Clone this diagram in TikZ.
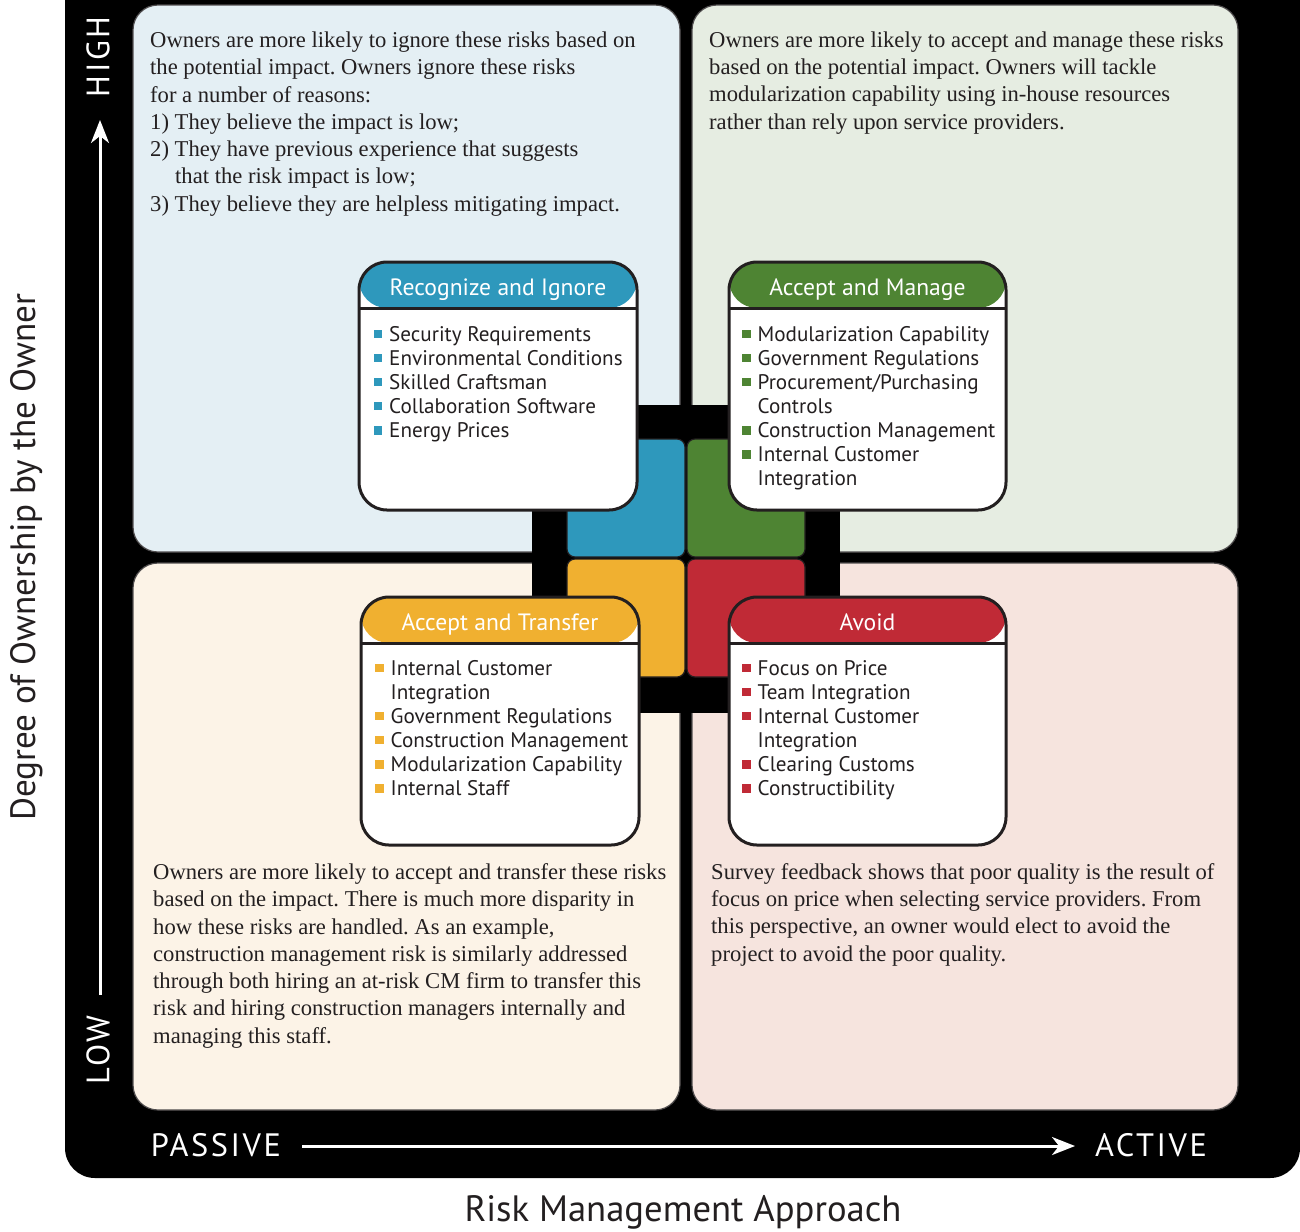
\documentclass[tikz,border=0pt]{standalone}
\usepackage{fontspec}
\setmainfont{Liberation Serif}
\newfontfamily\labfont{PT Sans}
\newfontfamily\capfont[LetterSpace=8]{PT Sans}
\usetikzlibrary{arrows.meta}
\definecolor{cblue}{HTML}{2E98BC}
\definecolor{cgreen}{HTML}{4E8433}
\definecolor{corange}{HTML}{F0B030}
\definecolor{cred}{HTML}{C02A36}
\definecolor{bgblue}{HTML}{E4EFF4}
\definecolor{bggreen}{HTML}{E6EDE2}
\definecolor{bgcream}{HTML}{FCF3E7}
\definecolor{bgpink}{HTML}{F6E4DE}
\definecolor{ink}{HTML}{231F20}
\newcommand\mybul[1]{\textcolor{#1}{\rule[3bp]{8.5bp}{8.5bp}}}
\frenchspacing
\begin{document}
\begin{tikzpicture}[x=1bp,y=-1bp,
  quad/.style={draw=ink!80,line width=1.2bp,rounded corners=25bp},
  csq/.style={draw=ink,line width=1.2bp,rounded corners=8bp},
  catbox/.style={draw=ink,line width=3bp,rounded corners=28bp,fill=white,
     minimum width=#1,minimum height=248bp,inner sep=0pt},
  cattitle/.style={anchor=base,text=white,font=\labfont\fontsize{23.7}{28}\selectfont},
  catlist/.style={anchor=base west,inner sep=0pt,text=ink,font=\labfont\fontsize{21.2}{24.25}\selectfont},
  para/.style={anchor=base west,inner sep=0pt,align=left,text=ink,font=\fontsize{22.7}{27.35}\selectfont\frenchspacing},
  axlab/.style={text=white,font=\capfont\fontsize{32.5}{34}\selectfont,inner sep=0pt},
  axtitle/.style={text=ink,font=\labfont\fontsize{#1}{40}\selectfont,inner sep=0pt},
  axarrow/.style={white,line width=3bp,-{Stealth[length=23bp,width=18bp,inset=7bp]}}
]
\useasboundingbox (0,0) rectangle (1300,1231);
% black frame
\fill[black,rounded corners=30bp] (65,-40) rectangle (1300,1178);
% quadrants
\filldraw[quad,fill=bgblue] (133,5) rectangle (680,552);
\filldraw[quad,fill=bggreen] (692,5) rectangle (1238,552);
\filldraw[quad,fill=bgcream] (133,563) rectangle (680,1110);
\filldraw[quad,fill=bgpink] (692,563) rectangle (1238,1110);
% centre block
\fill[black] (532,405) rectangle (840,713);
\filldraw[csq,fill=cblue] (567,439) rectangle (685,557);
\filldraw[csq,fill=cgreen] (687,439) rectangle (805,557);
\filldraw[csq,fill=corange] (567,559) rectangle (685,677);
\filldraw[csq,fill=cred] (687,559) rectangle (805,677);
% category boxes
\node[catbox=278bp,path picture={
  \fill[cblue] (path picture bounding box.north west) rectangle ([yshift=-46bp]path picture bounding box.north east);
  \draw[ink,line width=3bp] ([yshift=-46bp]path picture bounding box.north west) -- ([yshift=-46bp]path picture bounding box.north east);}]
  (ri) at (498,386) {};
\node[catbox=277bp,path picture={
  \fill[cgreen] (path picture bounding box.north west) rectangle ([yshift=-46bp]path picture bounding box.north east);
  \draw[ink,line width=3bp] ([yshift=-46bp]path picture bounding box.north west) -- ([yshift=-46bp]path picture bounding box.north east);}]
  (am) at (867.5,386) {};
\node[catbox=278bp,path picture={
  \fill[corange] (path picture bounding box.north west) rectangle ([yshift=-46bp]path picture bounding box.north east);
  \draw[ink,line width=3bp] ([yshift=-46bp]path picture bounding box.north west) -- ([yshift=-46bp]path picture bounding box.north east);}]
  (at) at (500,721) {};
\node[catbox=277bp,path picture={
  \fill[cred] (path picture bounding box.north west) rectangle ([yshift=-46bp]path picture bounding box.north east);
  \draw[ink,line width=3bp] ([yshift=-46bp]path picture bounding box.north west) -- ([yshift=-46bp]path picture bounding box.north east);}]
  (av) at (867.5,721) {};
\node[cattitle] (rit) at (498,295) {Recognize and Ignore};
\node[cattitle] (amt) at (867.5,295) {Accept and Manage};
\node[cattitle] (att) at (500,630) {Accept and Transfer};
\node[cattitle] (avt) at (867.5,630) {Avoid};
\node[catlist] (ril) at (373.5,341) {\begin{tabular}[t]{@{}l@{\hspace{7bp}}l@{}}
\mybul{cblue}&Security Requirements\\
\mybul{cblue}&Environmental Conditions\\
\mybul{cblue}&Skilled Craftsman\\
\mybul{cblue}&Collaboration Software\\
\mybul{cblue}&Energy Prices\end{tabular}};
\node[catlist] (aml) at (742,341) {\begin{tabular}[t]{@{}l@{\hspace{7bp}}l@{}}
\mybul{cgreen}&Modularization Capability\\
\mybul{cgreen}&Government Regulations\\
\mybul{cgreen}&Procurement/Purchasing\\
&Controls\\
\mybul{cgreen}&Construction Management\\
\mybul{cgreen}&Internal Customer\\
&Integration\end{tabular}};
\node[catlist] (atl) at (375,675) {\begin{tabular}[t]{@{}l@{\hspace{7bp}}l@{}}
\mybul{corange}&Internal Customer\\
&Integration\\
\mybul{corange}&Government Regulations\\
\mybul{corange}&Construction Management\\
\mybul{corange}&Modularization Capability\\
\mybul{corange}&Internal Staff\end{tabular}};
\node[catlist] (avl) at (742,675) {\begin{tabular}[t]{@{}l@{\hspace{7bp}}l@{}}
\mybul{cred}&Focus on Price\\
\mybul{cred}&Team Integration\\
\mybul{cred}&Internal Customer\\
&Integration\\
\mybul{cred}&Clearing Customs\\
\mybul{cred}&Constructibility\end{tabular}};
% paragraphs (anchor = baseline of the last line)
\node[para] (tlp) at (150,211.1) {Owners are more likely to ignore these risks based on\\
the potential impact. Owners ignore these risks\\
for a number of reasons:\\
1) They believe the impact is low;\\
2) They have previous experience that suggests\\
\hspace*{25bp}that the risk impact is low;\\
3) They believe they are helpless mitigating impact.};
\node[para] (trp) at (709,129) {Owners are more likely to accept and manage these risks\\
based on the potential impact. Owners will tackle\\
modularization capability using in-house resources\\
rather than rely upon service providers.};
\node[para] (blp) at (153,1043) {Owners are more likely to accept and transfer these risks\\
based on the impact. There is much more disparity in\\
how these risks are handled. As an example,\\
construction management risk is similarly addressed\\
through both hiring an at-risk CM firm to transfer this\\
risk and hiring construction managers internally and\\
managing this staff.};
\node[para] (brp) at (711,961) {Survey feedback shows that poor quality is the result of\\
focus on price when selecting service providers. From\\
this perspective, an owner would elect to avoid the\\
project to avoid the poor quality.};
% axes
\node[axlab,rotate=90] (high) at (98,57) {HIGH};
\node[axlab,rotate=90] (low) at (98,1050) {LOW};
\node[axlab] (passive) at (216,1145) {PASSIVE};
\node[axlab] (active) at (1151,1145) {ACTIVE};
\coordinate (vs) at (100,995);
\coordinate (ve) at (100,120);
\coordinate (hs) at (302,1146);
\coordinate (he) at (1075,1146);
\draw[axarrow] (vs) -- (ve);
\draw[axarrow] (hs) -- (he);
\node[axtitle=35.3,rotate=90] (ytitle) at (27,557) {Degree of Ownership by the Owner};
\node[axtitle=36.8] (xtitle) at (683,1212) {Risk Management Approach};
\end{tikzpicture}
\end{document}
